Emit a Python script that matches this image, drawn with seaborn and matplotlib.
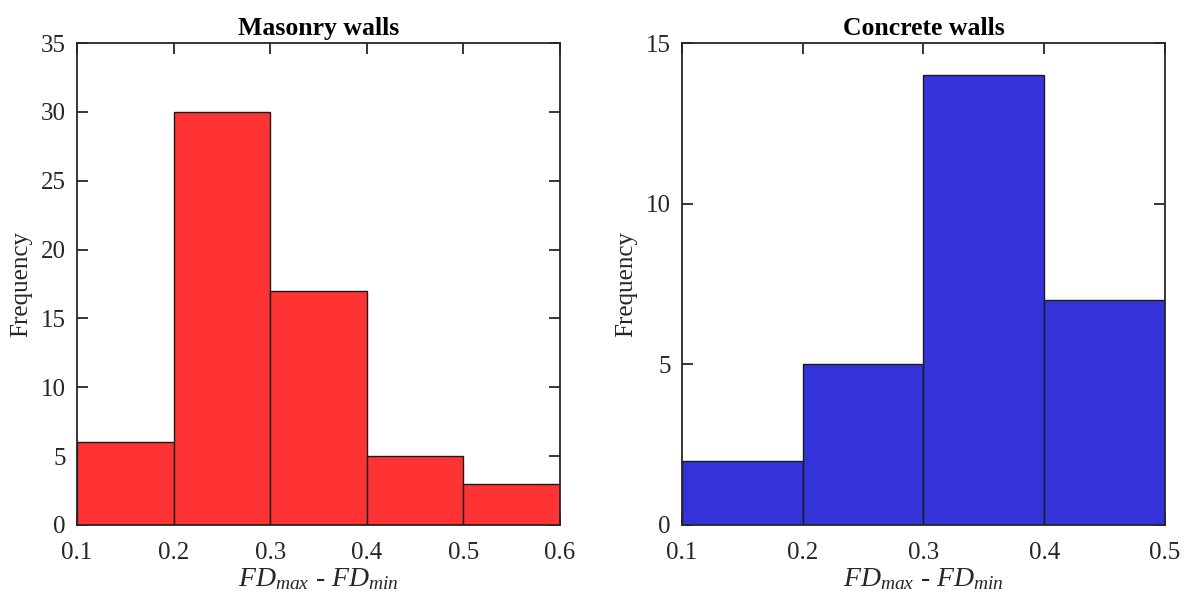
import matplotlib
matplotlib.use('Agg')
import matplotlib.pyplot as plt
import seaborn as sns
import numpy as np

# histogram data
masonry_edges = [0.1, 0.2, 0.3, 0.4, 0.5, 0.6]
masonry_counts = [6, 30, 17, 5, 3]
concrete_edges = [0.1, 0.2, 0.3, 0.4, 0.5]
concrete_counts = [2, 5, 14, 7]

sns.set_style('white')
plt.rcParams['font.family'] = ['Liberation Serif', 'DejaVu Serif']
plt.rcParams['mathtext.fontset'] = 'custom'
plt.rcParams['mathtext.rm'] = 'Liberation Serif'
plt.rcParams['mathtext.it'] = 'Liberation Serif:italic'

fig = plt.figure(figsize=(11.92, 6.04), dpi=100)
ax1 = fig.add_axes([0.0646, 0.1308, 0.4052, 0.798])
ax2 = fig.add_axes([0.5721, 0.1308, 0.4052, 0.798])

panels = [
    (ax1, masonry_edges, masonry_counts, '#FF3333', 'Masonry walls', [0, 35], 5),
    (ax2, concrete_edges, concrete_counts, '#3333D9', 'Concrete walls', [0, 15], 5),
]

for ax, edges, counts, color, title, ylim, ystep in panels:
    centers = (np.array(edges[:-1]) + np.array(edges[1:])) / 2
    sns.histplot(x=centers, weights=counts, bins=edges, color=color, alpha=1,
                 edgecolor='#1a1a1a', linewidth=1.0, ax=ax)
    ax.set_xlim(edges[0], edges[-1])
    ax.set_ylim(*ylim)
    ax.set_xticks(edges)
    ax.set_xticklabels([f'{e:.1f}' for e in edges])
    ax.set_yticks(np.arange(ylim[0], ylim[1] + 1, ystep))
    ax.tick_params(direction='in', top=True, right=True, bottom=True, left=True,
                   length=8, width=1.3, labelsize=18, color='#262626',
                   labelcolor='#262626')
    ax.tick_params(axis='x', pad=12)
    ax.tick_params(axis='y', pad=8)
    for s in ax.spines.values():
        s.set_visible(True)
        s.set_linewidth(1.3)
        s.set_color('#262626')
    ax.set_title(title, fontsize=18.5, fontweight='bold', pad=6, color='black')
    ax.set_ylabel('Frequency', fontsize=18, color='#262626', labelpad=6)
    ax.set_xlabel(r'$FD_{max}$ - $FD_{min}$', fontsize=20, color='#262626', labelpad=2)

fig.savefig('out.png', dpi=100)
